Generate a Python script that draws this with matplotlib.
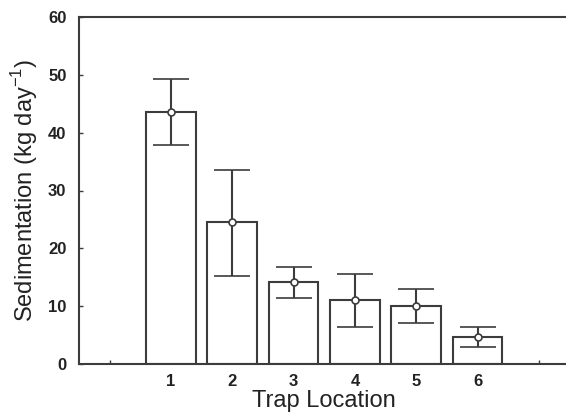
import matplotlib
matplotlib.use("Agg")
import matplotlib.pyplot as plt

locations = [1, 2, 3, 4, 5, 6]
means = [43.6, 24.5, 14.1, 11.0, 10.0, 4.7]
err_upper = [49.3, 33.6, 16.7, 15.5, 13.0, 6.4]
err_lower = [37.8, 15.3, 11.4, 6.4, 7.1, 3.0]
xtick_pos = [0, 1, 2, 3, 4, 5, 6, 7]
xtick_labels = ["", "1", "2", "3", "4", "5", "6", ""]
yticks = [0, 10, 20, 30, 40, 50, 60]

plt.rcParams["font.family"] = ["Liberation Sans", "DejaVu Sans"]
col = "#3c3c3c"

fig = plt.figure(figsize=(5.66, 4.16), dpi=100)
ax = fig.add_axes([79/566, 52/416, 490.6/566, 347/416])

ax.bar(locations, means, width=0.81, color="white", edgecolor=col, linewidth=1.5, zorder=2)
lo = [m - l for m, l in zip(means, err_lower)]
hi = [u - m for m, u in zip(means, err_upper)]
ax.errorbar(locations, means, yerr=[lo, hi], fmt="o", color=col, ecolor=col,
            elinewidth=1.5, capsize=13, capthick=1.5, markersize=5,
            markerfacecolor="white", markeredgecolor=col, markeredgewidth=1.2, zorder=3)

ax.set_xlim(-0.5, 7.5)
ax.set_ylim(0, 60)
ax.set_xticks(xtick_pos)
ax.set_xticklabels(xtick_labels)
ax.set_yticks(yticks)
for s in ["left", "bottom", "top"]:
    ax.spines[s].set_color(col)
    ax.spines[s].set_linewidth(1.5)
ax.spines["right"].set_visible(False)
ax.tick_params(axis="both", direction="in", length=3, width=1, colors=col,
               labelsize=12, labelcolor="#222222")
ax.tick_params(axis="x", pad=7)
ax.tick_params(axis="y", pad=9)
for lab in ax.get_xticklabels() + ax.get_yticklabels():
    lab.set_fontweight("bold")

ax.set_xlabel("Trap Location", fontsize=17, color="#222222", labelpad=1)
ax.set_ylabel("Sedimentation (kg day$^{\\mathregular{-1}}$)", fontsize=17, color="#222222", labelpad=6)

fig.savefig("out.png", dpi=100)
